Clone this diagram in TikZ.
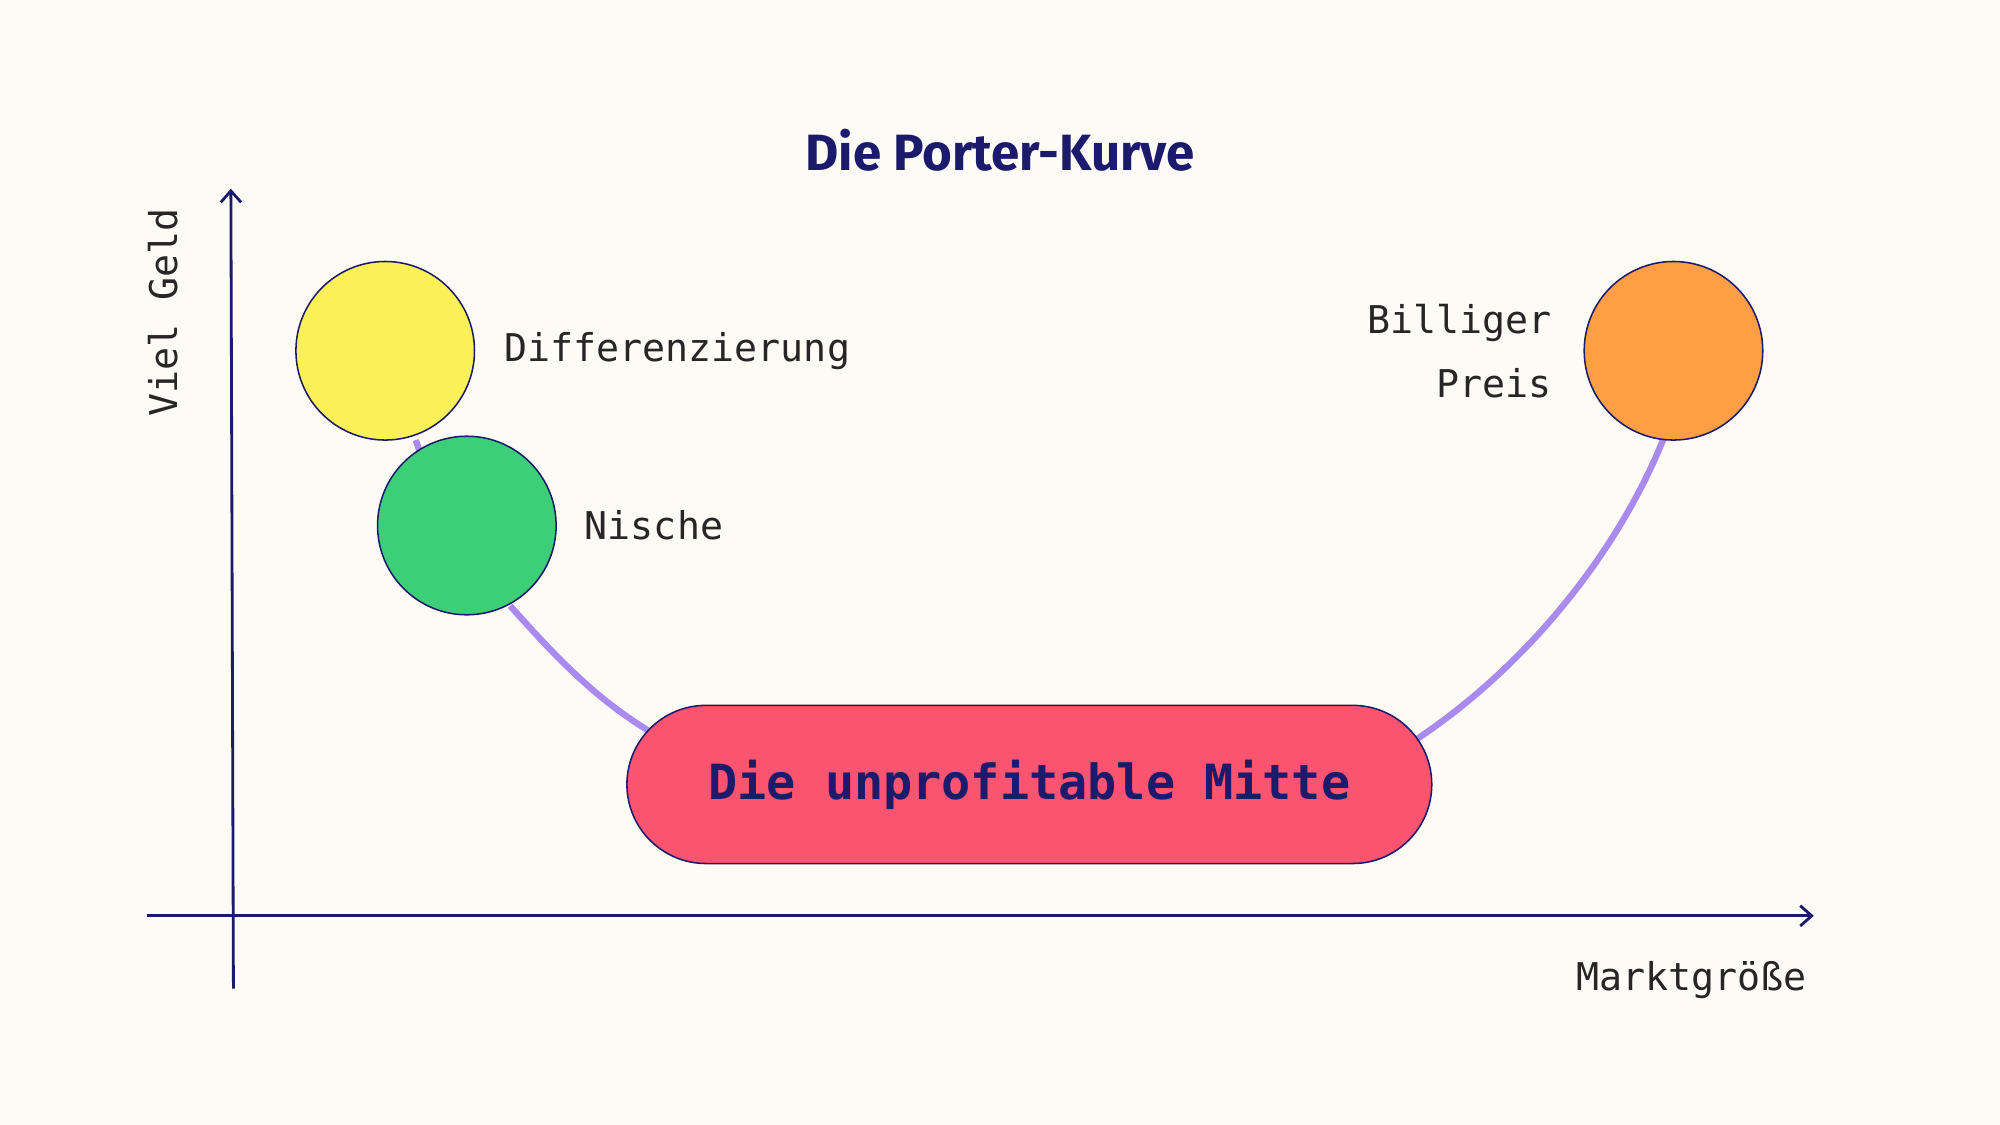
\documentclass[tikz,border=0pt]{standalone}
\usepackage{fontspec}
\setmainfont{Fira Sans}
\newfontfamily\monof{DejaVu Sans Mono}
\usetikzlibrary{arrows.meta}
\definecolor{bg}{HTML}{FCFBF6}
\definecolor{navy}{HTML}{1C1A6B}
\definecolor{curve}{HTML}{A98BF0}
\definecolor{yel}{HTML}{FBF058}
\definecolor{grn}{HTML}{3DCF78}
\definecolor{org}{HTML}{FF9E44}
\definecolor{red}{HTML}{FA5470}
\begin{document}
\begin{tikzpicture}[x=1pt,y=-1pt,
  ball/.style={circle,draw=navy,line width=1.2pt,minimum size=140pt,inner sep=0pt},
  lbl/.style={font=\monof\fontsize{30}{36}\selectfont,text=black!85},
  ax/.style={draw=navy,line width=2.2pt,-{Straight Barb[length=9pt,width=16pt]}},
  crv/.style={draw=curve,line width=5pt}]
\fill[bg] (0,0) rectangle (1568,882);
\useasboundingbox (0,0) rectangle (1568,882);
\node[font=\bfseries\fontsize{40}{48}\selectfont,text=navy] (title) at (784,118) {Die Porter-Kurve};
\coordinate (y0) at (183,775); \coordinate (y1) at (181,148);
\coordinate (x0) at (115,718); \coordinate (x1) at (1422,718);
\draw[ax] (y0) -- (y1);
\draw[ax] (x0) -- (x1);
\node[lbl,rotate=90] (vg) at (128,245) {Viel Geld};
\node[lbl,anchor=east] (mg) at (1420,768) {Marktgröße};
% curve
\coordinate (c1) at (326,345); \coordinate (c2) at (335,372);
\coordinate (c3) at (400,475); \coordinate (c4) at (512,575);
\coordinate (c5) at (1110,580); \coordinate (c6) at (1305,342);
\draw[crv] (c1) -- (c2);
\draw[crv] (c3) .. controls (440,520) and (470,550) .. (c4);
\draw[crv] (c5) .. controls (1200,520) and (1270,430) .. (c6);
\node[ball,fill=yel] (dif) at (302,275) {};
\node[ball,fill=grn] (nis) at (366,412) {};
\node[ball,fill=org] (bil) at (1312,275) {};
\node[draw=navy,line width=1.2pt,fill=red,rounded corners=62pt,minimum width=631pt,minimum height=124pt,
  font=\monof\bfseries\fontsize{38}{46}\selectfont,text=navy] (mid) at (807,615) {Die unprofitable Mitte};
\node[lbl,anchor=west] (tdif) at (392,275) {Differenzierung};
\node[lbl,anchor=west] (tnis) at (455,412) {Nische};
\node[lbl,anchor=east,align=right,font=\monof\fontsize{30}{50}\selectfont] (tbil) at (1220,275) {Billiger\\Preis};
\end{tikzpicture}
\end{document}
